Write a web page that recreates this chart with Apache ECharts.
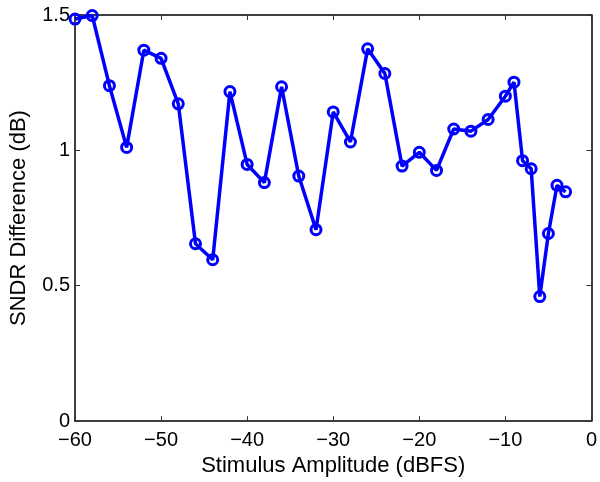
<!DOCTYPE html>
<html><head><meta charset="utf-8">
<script src="https://cdn.jsdelivr.net/npm/echarts@6/dist/echarts.min.js"></script>
<style>html,body{margin:0;padding:0;background:#fff}#c{width:600px;height:482px}</style>
</head><body><div id="c"></div>
<script>
const amplitude = [-60,-58,-56,-54,-52,-50,-48,-46,-44,-42,-40,-38,-36,-34,-32,-30,-28,-26,-24,-22,-20,-18,-16,-14,-12,-10,-9,-8,-7,-6,-5,-4,-3];
const sndrDiff = [1.485,1.498,1.239,1.011,1.370,1.340,1.172,0.655,0.596,1.217,0.948,0.881,1.235,0.905,0.707,1.142,1.031,1.375,1.284,0.942,0.993,0.926,1.079,1.071,1.114,1.200,1.252,0.962,0.932,0.460,0.693,0.871,0.847];
const xTicks = [-60,-50,-40,-30,-20,-10,0];
const yTicks = [0,0.5,1,1.5];

const font = 'Liberation Sans, Arial, sans-serif';
const fmt = v => String(v).replace('-', '\u2212');
const chart = echarts.init(document.getElementById('c'), null, {renderer:'canvas'});
const axisLine = () => ({show:true, onZero:false, lineStyle:{color:'#000', width:1.5}});
const tick = () => ({show:true, inside:true, length:5, lineStyle:{color:'#333', width:1}});
chart.setOption({
  animation:false,
  backgroundColor:'#fff',
  grid:{left:73, right:6, top:15, bottom:57, containLabel:false},
  xAxis:[{
    type:'value', min:-60, max:0, interval:10,
    axisLine:axisLine(), axisTick:tick(), splitLine:{show:false},
    axisLabel:{color:'#000', fontSize:20, fontFamily:font, margin:9, formatter:v=>xTicks.includes(v)?fmt(v):''},
    name:'Stimulus Amplitude (dBFS)', nameLocation:'middle', nameGap:31,
    nameTextStyle:{color:'#000', fontSize:22, fontFamily:font}
  },{
    type:'value', position:'top', min:-60, max:0, interval:10,
    axisLine:axisLine(), axisTick:tick(), axisLabel:{show:false}, splitLine:{show:false}
  }],
  yAxis:[{
    type:'value', min:0, max:1.5, interval:0.5,
    axisLine:axisLine(), axisTick:tick(), splitLine:{show:false},
    axisLabel:{color:'#000', fontSize:20, fontFamily:font, margin:5, formatter:v=>yTicks.includes(v)?String(v):''},
    name:'SNDR Difference (dB)', nameLocation:'middle', nameGap:45,
    nameTextStyle:{color:'#000', fontSize:22, fontFamily:font}
  },{
    type:'value', position:'right', min:0, max:1.5, interval:0.5,
    axisLine:axisLine(), axisTick:tick(), axisLabel:{show:false}, splitLine:{show:false}
  }],
  series:[{
    type:'line',
    data: amplitude.map((x,i)=>[x, sndrDiff[i]]),
    lineStyle:{color:'#0000ff', width:3.5},
    symbol:'circle', symbolSize:10,
    itemStyle:{color:'rgba(0,0,0,0)', borderColor:'#0000ff', borderWidth:3},
    clip:false
  }]
});
</script></body></html>
